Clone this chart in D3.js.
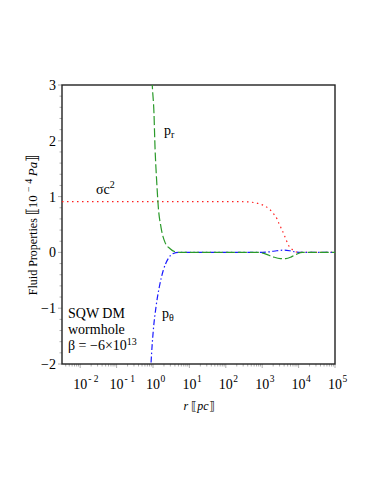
<!DOCTYPE html>
<html>
<head>
<meta charset="UTF-8">
<title>SQW DM wormhole fluid properties</title>
<style>
  body { margin: 0; background: #ffffff; }
  svg { display: block; font-family: "Liberation Serif", "Times New Roman", serif; }
</style>
</head>
<body>
<svg></svg>
<script src="https://d3js.org/d3.v7.min.js"></script>
<script>

let width = 374, height = 484;

// x positions are log10(r / pc)
let xTicks = [-2, -1, 0, 1, 2, 3, 4, 5];
let yTicks = [-2, -1, 0, 1, 2, 3];

// sigma c^2 (red dotted)
let sigmaLogR = [-2.5, 1.0, 2.3, 2.6, 2.8, 2.95, 3.06, 3.2, 3.3, 3.4, 3.46, 3.53, 3.6, 3.66, 3.73, 3.85, 4.0, 4.2, 5.0];
let sigmaVal  = [0.91, 0.91, 0.91, 0.905, 0.89, 0.865, 0.835, 0.775, 0.70, 0.61, 0.52, 0.42, 0.32, 0.22, 0.12, 0.04, 0.0, 0.0, 0.0];

// p_r (green dashed)
let prLogR = [-0.04, -0.02, 0.027, 0.055, 0.10, 0.146, 0.22, 0.33, 0.47, 0.65, 0.75, 1.0, 2.0, 2.9, 3.1, 3.3, 3.5, 3.65, 3.8, 3.95, 4.1, 5.0];
let prVal  = [3.3, 3.0, 2.49, 1.89, 1.29, 0.81, 0.45, 0.18, 0.066, 0.005, 0.0, 0.0, 0.0, 0.0, -0.03, -0.08, -0.11, -0.11, -0.08, -0.03, 0.0, 0.0];

// p_theta (blue dash-dot)
let ptLogR = [-0.07, -0.055, 0.008, 0.082, 0.173, 0.283, 0.42, 0.558, 0.72, 1.0, 2.0, 2.9, 3.2, 3.4, 3.6, 3.75, 3.9, 4.05, 5.0];
let ptVal  = [-2.2, -2.0, -1.40, -0.98, -0.62, -0.32, -0.11, -0.02, 0.0, 0.0, 0.0, 0.0, 0.01, 0.03, 0.04, 0.03, 0.01, 0.0, 0.0];

let svg = d3.select("svg")
    .attr("width", width)
    .attr("height", height);

let pLeft = 62, pRight = 335, pTop = 85, pBottom = 364;

let x = d3.scaleLog().domain([Math.pow(10, -2.5), 1e5]).range([pLeft, pRight]);
let y = d3.scaleLinear().domain([-2, 3]).range([pBottom, pTop]);

svg.append("defs").append("clipPath").attr("id", "plotclip")
  .append("rect")
    .attr("x", pLeft).attr("y", pTop)
    .attr("width", pRight - pLeft).attr("height", pBottom - pTop);

// minor ticks, x (outside, below)
let minorX = [];
for (let k = -3; k <= 4; k++) {
  for (let m = 1; m <= 9; m++) {
    let v = m * Math.pow(10, k);
    if (v >= x.domain()[0] && v <= 1e5) minorX.push(v);
  }
}
minorX.push(1e5);
svg.append("g")
  .selectAll("line")
  .data(minorX)
  .enter()
  .append("line")
    .attr("x1", d => x(d)).attr("x2", d => x(d))
    .attr("y1", pBottom).attr("y2", d => Math.abs(Math.log10(d) - Math.round(Math.log10(d))) < 1e-9 ? pBottom + 4 : pBottom + 2.5)
    .attr("stroke", "#999")
    .attr("stroke-width", 0.8);

// minor ticks, y (outside, left)
let minorY = d3.range(-2, 3.001, 0.2);
svg.append("g")
  .selectAll("line")
  .data(minorY)
  .enter()
  .append("line")
    .attr("x1", pLeft).attr("x2", d => Math.abs(d - Math.round(d)) < 1e-6 ? pLeft - 4 : pLeft - 2.5)
    .attr("y1", d => y(d)).attr("y2", d => y(d))
    .attr("stroke", "#999")
    .attr("stroke-width", 0.8);

// frame
svg.append("rect")
  .attr("x", pLeft).attr("y", pTop)
  .attr("width", pRight - pLeft).attr("height", pBottom - pTop)
  .attr("fill", "none")
  .attr("stroke", "#222")
  .attr("stroke-width", 1.4);

// x tick labels: 10 with superscript exponent
let xl = svg.append("g").attr("font-size", 14).attr("fill", "#000");
xl.selectAll("text.base")
  .data(xTicks)
  .enter()
  .append("text")
    .attr("class", "base")
    .attr("x", d => x(Math.pow(10, d)))
    .attr("y", 389)
    .attr("text-anchor", "middle")
    .text("10");
xl.selectAll("text.sup")
  .data(xTicks)
  .enter()
  .append("text")
    .attr("class", "sup")
    .attr("x", d => x(Math.pow(10, d)) + (d < 0 ? 8 : 7.5))
    .attr("y", 382)
    .attr("font-size", 9.5)
    .text(d => d < 0 ? "- " + Math.abs(d) : d);

// y tick labels
svg.append("g")
  .selectAll("text")
  .data(yTicks)
  .enter()
  .append("text")
    .attr("x", 56)
    .attr("y", d => y(d))
    .attr("dy", "0.35em")
    .attr("text-anchor", "end")
    .attr("font-size", 14)
    .text(d => d < 0 ? "\u2212" + Math.abs(d) : d);

// axis titles
let xt = svg.append("text")
  .attr("x", 199)
  .attr("y", 410)
  .attr("text-anchor", "middle")
  .attr("font-size", 12);
xt.append("tspan").attr("font-style", "italic").text("r");
xt.append("tspan").text(" \u27E6");
xt.append("tspan").attr("font-style", "italic").text("pc");
xt.append("tspan").text("\u27E7");

let yt = svg.append("text")
  .attr("transform", "translate(37,225) rotate(-90)")
  .attr("text-anchor", "middle")
  .attr("font-size", 12);
yt.append("tspan").text("Fluid Properties ");
yt.append("tspan").attr("font-size", 15).text("\u27E6");
yt.append("tspan").attr("font-size", 13).text("10 ");
yt.append("tspan").attr("font-size", 10).attr("dy", -5).text("\u2212 4 ");
yt.append("tspan").attr("font-style", "italic").attr("font-size", 13).attr("dy", 5).text("Pa");
yt.append("tspan").attr("font-size", 15).text("\u27E7");

// curves
let plot = svg.append("g").attr("clip-path", "url(#plotclip)");

function drawSeries(logR, vals, color, dash, w) {
  let pts = logR.map((d, i) => [d, vals[i]]);
  let line = d3.line()
    .x(d => x(Math.pow(10, d[0])))
    .y(d => y(d[1]))
    .curve(d3.curveMonotoneX);
  plot.append("path")
    .datum(pts)
    .attr("d", line)
    .attr("fill", "none")
    .attr("stroke", color)
    .attr("stroke-width", w)
    .attr("stroke-dasharray", dash);
}

drawSeries(sigmaLogR, sigmaVal, "#ff2020", "1.5,3.5", 1.2);
drawSeries(ptLogR, ptVal, "#1a1aff", "6,2.5,1.5,2.5", 1.2);
drawSeries(prLogR, prVal, "#2a9a2a", "9,3", 1.2);

// curve labels
let pr = svg.append("text").attr("x", 164).attr("y", 135).attr("font-size", 14);
pr.append("tspan").text("p");
pr.append("tspan").attr("font-size", 10).attr("dy", 3).text("r");

let pt = svg.append("text").attr("x", 162).attr("y", 318).attr("font-size", 14);
pt.append("tspan").text("p");
pt.append("tspan").attr("font-size", 10).attr("dy", 3).text("\u03B8");

let sg = svg.append("text").attr("x", 96).attr("y", 194).attr("font-size", 14);
sg.append("tspan").text("\u03C3c");
sg.append("tspan").attr("font-size", 10).attr("dy", -6).text("2");

// annotation
let ann = svg.append("g").attr("font-size", 14);
ann.append("text").attr("x", 68).attr("y", 318).text("SQW DM");
ann.append("text").attr("x", 68).attr("y", 334).text("wormhole");
let beta = ann.append("text").attr("x", 68).attr("y", 350);
beta.append("tspan").text("\u03B2 = \u22126\u00D710");
beta.append("tspan").attr("font-size", 10).attr("dy", -5).text("13");

</script>
</body>
</html>
